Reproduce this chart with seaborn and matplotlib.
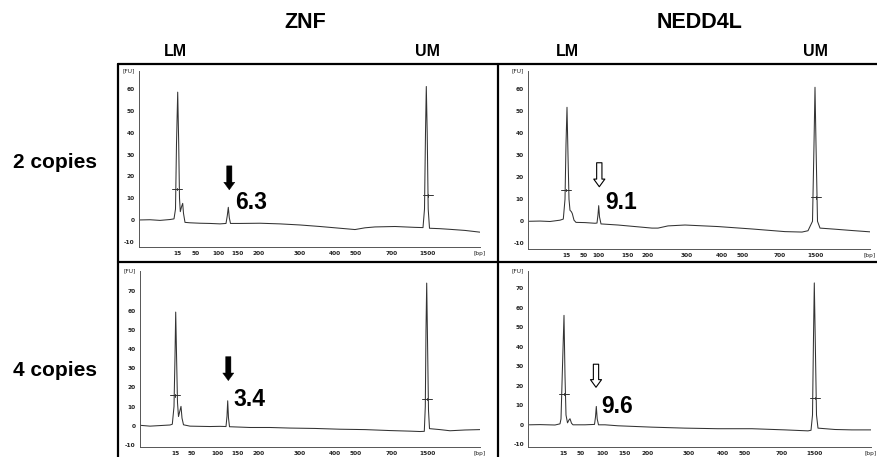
import matplotlib
matplotlib.use("Agg")
import matplotlib.pyplot as plt
import seaborn as sns
import pandas as pd
from matplotlib.lines import Line2D

sns.set_style("white")
plt.rcParams['font.family'] = ['Liberation Sans', 'DejaVu Sans']
plt.rcParams['text.color'] = 'black'

# ---------------- data (x = migration position, y = fluorescence [FU]) ----------------
genes = ["ZNF", "NEDD4L"]
rows = ["2 copies", "4 copies"]

znf2_t = [1, 11, 21, 31, 35, 36.5, 37.5, 38.7, 39.7, 40.5, 41.3, 42.5, 43.7, 44.5, 46, 51, 61, 71, 81, 87,
          88.3, 89.3, 90.3, 91.5, 101, 121, 141, 161, 181, 201, 216, 226, 236, 256, 276, 284, 285.5, 286.5,
          287.3, 288.2, 289.2, 290.5, 301, 311, 326, 341]
znf2_fu = [0.0, 0.1, -0.2, 0.2, 0.5, 5, 35, 58.6, 35, 10, 3.8, 6, 7.6, 3, -1.1, -1.3, -1.5, -1.6, -1.8, -1.6,
           2, 5.8, 1, -1.6, -1.6, -1.5, -1.8, -2.3, -3.0, -3.8, -4.4, -3.6, -3.2, -3.0, -3.4, -3.5, 5, 40,
           61.2, 40, 5, -3.8, -4.0, -4.3, -4.8, -5.6]

nedd2_t = [1, 11.7, 21.7, 31.7, 35, 36.7, 37.7, 38.7, 39.7, 40.7, 41.7, 43, 44, 45.7, 47.7, 56.7, 66.7, 68.7,
           69.7, 70.4, 71.2, 72.7, 89.7, 106.7, 123.7, 129.7, 139.7, 156.7, 189.7, 223.7, 256.7, 273.7, 279.7,
           284.2, 285.7, 286.7, 287.7, 289.2, 291.7, 306.7, 323.7, 341.7]
nedd2_fu = [0, 0.1, -0.1, 0.5, 1, 10, 35, 51.8, 30, 10, 5, 4.4, 3.5, 0.5, -0.5, -0.6, -0.9, -0.8,
            3, 7.1, 2, -1.2, -1.7, -2.4, -3.1, -3.1, -2.1, -1.7, -2.4, -3.5, -4.7, -4.9, -4.3,
            0, 35, 60.9, 35, 0, -3.1, -3.6, -4.2, -4.8]

znf4_t = [1, 10, 20, 30, 32.3, 34, 35, 35.7, 36.6, 37.5, 38.5, 40, 41, 42, 43.5, 50, 60, 70, 80, 86, 87, 87.7,
          88.5, 89.5, 100, 110, 130, 150, 175, 200, 225, 250, 270, 280, 284.3, 285.3, 286, 286.7, 287.5, 288.5,
          289.5, 300, 310, 325, 340]
znf4_fu = [0.2, -0.2, 0.1, 0.4, 0.8, 10, 36, 59.2, 35, 12, 4.8, 8, 10.1, 4, 0.5, -0.2, -0.3, -0.4, -0.3, -0.4,
           5, 13.0, 4, -0.5, -0.7, -0.9, -0.9, -1.2, -1.4, -1.8, -2.0, -2.5, -2.8, -3.0, -2.9, 10, 50, 74.3, 45,
           8, -1.5, -2.0, -2.6, -2.2, -2.0]

nedd4_t = [1, 11.7, 26.7, 31.7, 32.7, 34.2, 35.7, 36.7, 37.7, 39.2, 40.7, 41.7, 43.2, 44.7, 56.7, 66.2, 67.2, 68,
           68.9, 70.2, 76.7, 89.7, 123.7, 156.7, 189.7, 223.7, 256.7, 279.7, 282.7, 284.2, 285.2, 286, 286.9,
           288.2, 289.7, 306.7, 323.7, 342.7]
nedd4_fu = [0, 0.1, -0.1, 0.5, 3, 30, 56, 25, 5, 1, 2.5, 3.1, 0.8, 0, 0, 0.2, 4, 9.4,
            3, 0, 0, -0.5, -1.2, -1.7, -2.0, -2.0, -2.6, -3.1, -2.8, 5, 45, 72.6, 45,
            5, -1.7, -2.4, -2.6, -2.6]

# bp size-ladder tick positions / labels
bp_labels = ['15', '', '50', '100', '150', '200', '300', '400', '500', '700', '', '', '1500']
znf2_ticks = [38, 45, 57, 79, 99, 120, 161, 196, 217, 253, 266, 272, 289]
nedd2_ticks = [38.4, 47.7, 55.4, 70.4, 98.7, 119.7, 158.7, 193.7, 214.7, 251.7, 264.7, 270.7, 286.7]
znf4_ticks = [36, 43, 52, 77, 98, 119, 160, 195, 216, 252, 266, 271, 288]
nedd4_ticks = [35.7, 44, 52.7, 74.4, 96, 119, 160, 195, 216, 253.4, 266, 270.7, 286]

# marker (LM / UM) positions and levels
znf2_marks = [(37.7, 14.2), (288.8, 11.3)]
nedd2_marks = [(37.7, 14.2), (287.2, 10.9)]
znf4_marks = [(35, 15.8), (287.3, 13.9)]
nedd4_marks = [(35.4, 15.7), (286.7, 13.7)]

# target peak annotation: value, arrow x, arrow tail FU, arrow tip FU, text FU, filled
peak_values = ["6.3", "9.1", "3.4", "9.6"]
arrow_x = [90.3, 71, 88.3, 67.7]
arrow_tail = [24.8, 26.6, 36, 31]
arrow_tip = [13.8, 15.7, 23.5, 19.2]
text_fu = [7.9, 8.5, 13.5, 9.4]
arrow_filled = [True, False, True, False]

# ---------------- figure ----------------
W, H = 877, 457
fig = plt.figure(figsize=(W / 100, H / 100), dpi=100)


def px_axes(l, t, r, b):
    return [l / W, 1 - b / H, (r - l) / W, (b - t) / H]


panels = [
    dict(box=(139, 71, 480, 247), t=znf2_t, fu=znf2_fu, ticks=znf2_ticks, marks=znf2_marks,
         ylim=(-12.4, 68.3), yt=list(range(-10, 61, 10))),
    dict(box=(528.3, 71, 870, 249), t=nedd2_t, fu=nedd2_fu, ticks=nedd2_ticks, marks=nedd2_marks,
         ylim=(-12.6, 68.3), yt=list(range(-10, 61, 10))),
    dict(box=(140, 271, 480, 446.5), t=znf4_t, fu=znf4_fu, ticks=znf4_ticks, marks=znf4_marks,
         ylim=(-10.8, 80.6), yt=list(range(-10, 71, 10))),
    dict(box=(528.3, 271, 871, 446.5), t=nedd4_t, fu=nedd4_fu, ticks=nedd4_ticks, marks=nedd4_marks,
         ylim=(-11.1, 78.7), yt=list(range(-10, 71, 10))),
]

for i, p in enumerate(panels):
    l, t, r, b = p["box"]
    ax = fig.add_axes(px_axes(l, t, r, b))
    df = pd.DataFrame({"t": p["t"], "fu": p["fu"]})
    sns.lineplot(data=df, x="t", y="fu", ax=ax, estimator=None, sort=False,
                 color="#333333", linewidth=0.75)
    for mx, my in p["marks"]:
        ax.plot([mx - 5, mx + 5], [my, my], color="#333333", lw=0.7)
        ax.plot([mx, mx], [my - 0.6, my + 0.6], color="#333333", lw=0.7)
    ax.set_xlim(0, r - l)
    ax.set_ylim(*p["ylim"])
    ax.set_xticks(p["ticks"])
    ax.set_xticklabels(bp_labels)
    ax.set_yticks(p["yt"])
    ax.set_yticklabels([str(v) for v in p["yt"]])
    ax.set_xlabel("")
    ax.set_ylabel("")
    for s in ["top", "right"]:
        ax.spines[s].set_visible(False)
    for s in ["left", "bottom"]:
        ax.spines[s].set_linewidth(0.7)
        ax.spines[s].set_color("#555555")
    ax.tick_params(axis="both", length=2.2, width=0.6, color="#555555", labelsize=4.2,
                   pad=1.0, labelcolor="#222222")
    for lab in ax.get_xticklabels() + ax.get_yticklabels():
        lab.set_family("DejaVu Sans")
        lab.set_fontweight("bold")
    ax.patch.set_alpha(0)
    ax.text(-0.012, 1.0, "[FU]", transform=ax.transAxes, ha="right", va="center",
            fontsize=4.2, family="DejaVu Sans", color="#222222")
    ax.annotate("[bp]", xy=(1.0, 0), xycoords="axes fraction", xytext=(0, -4.8),
                textcoords="offset points", ha="center", va="center", fontsize=4.2,
                family="DejaVu Sans", color="#222222", annotation_clip=False)

    # target peak arrow + value
    fc = "black" if arrow_filled[i] else "white"
    ax.annotate("", xy=(arrow_x[i], arrow_tip[i]), xytext=(arrow_x[i], arrow_tail[i]),
                arrowprops=dict(arrowstyle="simple,head_length=0.55,head_width=0.8,tail_width=0.38",
                                fc=fc, ec="black", lw=0.8 if not arrow_filled[i] else 0.3,
                                shrinkA=0, shrinkB=0, mutation_scale=10))
    ax.text(arrow_x[i] + 5.5, text_fu[i], peak_values[i], fontsize=16.5, fontweight="bold",
            ha="left", va="center", color="black")

# ---------------- panel frame lines ----------------
lw_frame = 1.6
frame = [
    ((118, 877), (64, 64)),
    ((118, 877), (262, 262)),
    ((118, 118), (64, 457)),
    ((498, 498), (64, 457)),
]
for xs, ys in frame:
    fig.add_artist(Line2D([x / W for x in xs], [1 - y / H for y in ys], color="black", lw=lw_frame))

# ---------------- headers ----------------
fig.text(305 / W, 1 - 22 / H, genes[0], ha="center", va="center", fontsize=15.5, fontweight="bold")
fig.text(700 / W, 1 - 22 / H, genes[1], ha="center", va="center", fontsize=15.5, fontweight="bold")
for xl, lab in [(175, "LM"), (428, "UM"), (567, "LM"), (816, "UM")]:
    fig.text(xl / W, 1 - 51 / H, lab, ha="center", va="center", fontsize=11.5, fontweight="bold")
fig.text(55 / W, 1 - 163 / H, rows[0], ha="center", va="center", fontsize=15, fontweight="bold")
fig.text(55 / W, 1 - 370 / H, rows[1], ha="center", va="center", fontsize=15, fontweight="bold")

fig.savefig("out.png", dpi=100)
